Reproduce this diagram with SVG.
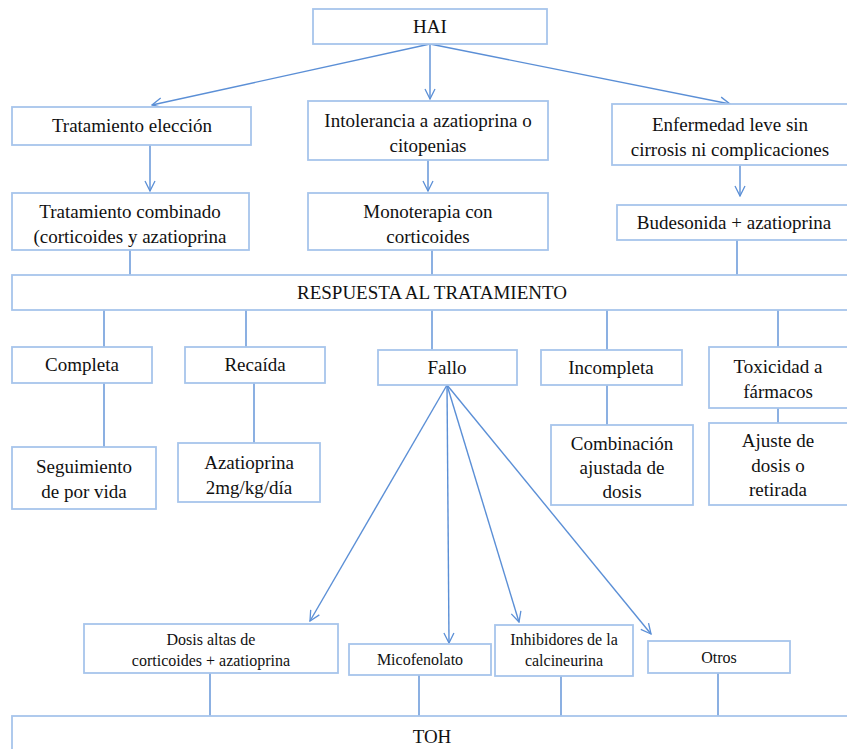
<svg xmlns="http://www.w3.org/2000/svg" width="847" height="749" viewBox="0 0 847 749">
<defs>
<marker id="ah" viewBox="0 0 12 12" refX="11" refY="6" markerWidth="12" markerHeight="12" markerUnits="userSpaceOnUse" orient="auto">
<path d="M1,1 L11,6 L1,11" fill="none" stroke="#5b8fd6" stroke-width="1.3"/>
</marker>
<style>
.b{fill:#fff;stroke:#a7c5ec;stroke-width:1.8}
text{font-family:'Liberation Serif','Times New Roman','DejaVu Serif',serif;fill:#111;text-anchor:middle}
.t{font-size:19px}
.s{font-size:16px}
.c line{stroke:#5b8fd6;stroke-width:1.4}
.a{marker-end:url(#ah)}
</style>
</defs>
<rect width="847" height="749" fill="#fff"/>
<g class="c" id="connectors">
<line class="a" x1="430" y1="44" x2="152" y2="105"/>
<line class="a" x1="430" y1="44" x2="430" y2="99"/>
<line class="a" x1="430" y1="44" x2="730" y2="104"/>
<line class="a" x1="150" y1="145" x2="150" y2="191"/>
<line class="a" x1="428" y1="160" x2="428" y2="191"/>
<line class="a" x1="740" y1="165" x2="740" y2="196"/>
<line x1="130" y1="250" x2="130" y2="275"/>
<line x1="432" y1="250" x2="432" y2="275"/>
<line x1="737" y1="240" x2="737" y2="275"/>
<line x1="104" y1="310" x2="104" y2="347"/>
<line x1="246" y1="310" x2="246" y2="347"/>
<line x1="432" y1="310" x2="432" y2="350"/>
<line x1="607" y1="310" x2="607" y2="350"/>
<line x1="778" y1="310" x2="778" y2="347"/>
<line x1="104" y1="383" x2="104" y2="447"/>
<line x1="254" y1="383" x2="254" y2="443"/>
<line x1="607" y1="385" x2="607" y2="425"/>
<line x1="778" y1="408" x2="778" y2="423"/>
<line class="a" x1="447" y1="385" x2="310" y2="621"/>
<line class="a" x1="447" y1="385" x2="449" y2="643"/>
<line class="a" x1="447" y1="385" x2="519" y2="622"/>
<line class="a" x1="447" y1="385" x2="651" y2="634"/>
<line x1="210" y1="673" x2="210" y2="716"/>
<line x1="419" y1="675" x2="419" y2="716"/>
<line x1="561" y1="676" x2="561" y2="716"/>
<line x1="718" y1="673" x2="718" y2="716"/>
</g>
<g id="hai"><rect class="b" x="313" y="9" width="234" height="35"/><text class="t" x="430" y="33">HAI</text></g>
<g id="eleccion"><rect class="b" x="12" y="107" width="239" height="38"/><text class="t" x="132" y="132">Tratamiento elección</text></g>
<g id="intolerancia"><rect class="b" x="308" y="101" width="240" height="59"/><text class="t" x="428" y="127">Intolerancia a azatioprina o</text><text class="t" x="428" y="152">citopenias</text></g>
<g id="enfermedad"><rect class="b" x="612" y="104" width="240" height="61"/><text class="t" x="730" y="131">Enfermedad leve sin</text><text class="t" x="730" y="156">cirrosis ni complicaciones</text></g>
<g id="combinado"><rect class="b" x="12" y="193" width="237" height="57"/><text class="t" x="130" y="218">Tratamiento combinado</text><text class="t" x="130" y="243">(corticoides y azatioprina</text></g>
<g id="monoterapia"><rect class="b" x="308" y="193" width="240" height="57"/><text class="t" x="428" y="218">Monoterapia con</text><text class="t" x="428" y="243">corticoides</text></g>
<g id="budesonida"><rect class="b" x="617" y="205" width="235" height="35"/><text class="t" x="734" y="229">Budesonida + azatioprina</text></g>
<g id="respuesta"><rect class="b" x="12" y="275" width="840" height="35"/><text class="t" x="432" y="299">RESPUESTA AL TRATAMIENTO</text></g>
<g id="completa"><rect class="b" x="12" y="347" width="140" height="36"/><text class="t" x="82" y="371">Completa</text></g>
<g id="recaida"><rect class="b" x="185" y="347" width="140" height="36"/><text class="t" x="255" y="371">Recaída</text></g>
<g id="fallo"><rect class="b" x="378" y="350" width="139" height="35"/><text class="t" x="447" y="374">Fallo</text></g>
<g id="incompleta"><rect class="b" x="541" y="350" width="141" height="35"/><text class="t" x="611" y="374">Incompleta</text></g>
<g id="toxicidad"><rect class="b" x="709" y="347" width="143" height="61"/><text class="t" x="778" y="373">Toxicidad a</text><text class="t" x="778" y="398">fármacos</text></g>
<g id="seguimiento"><rect class="b" x="12" y="447" width="144" height="62"/><text class="t" x="84" y="473">Seguimiento</text><text class="t" x="84" y="498">de por vida</text></g>
<g id="azatioprina"><rect class="b" x="178" y="443" width="142" height="59"/><text class="t" x="249" y="469">Azatioprina</text><text class="t" x="249" y="494">2mg/kg/día</text></g>
<g id="combinacion"><rect class="b" x="551" y="425" width="142" height="80"/><text class="t" x="622" y="450">Combinación</text><text class="t" x="622" y="474">ajustada de</text><text class="t" x="622" y="498">dosis</text></g>
<g id="ajuste"><rect class="b" x="709" y="423" width="143" height="82"/><text class="t" x="778" y="447">Ajuste de</text><text class="t" x="778" y="472">dosis o</text><text class="t" x="778" y="496">retirada</text></g>
<g id="dosisaltas"><rect class="b" x="84" y="624" width="254" height="49"/><text class="s" x="211" y="645">Dosis altas de</text><text class="s" x="211" y="666">corticoides + azatioprina</text></g>
<g id="micofenolato"><rect class="b" x="349" y="644" width="142" height="31"/><text class="s" x="420" y="665">Micofenolato</text></g>
<g id="inhibidores"><rect class="b" x="495" y="625" width="138" height="51"/><text class="s" x="564" y="645">Inhibidores de la</text><text class="s" x="564" y="666">calcineurina</text></g>
<g id="otros"><rect class="b" x="648" y="641" width="142" height="32"/><text class="s" x="719" y="663">Otros</text></g>
<g id="toh"><rect class="b" x="12" y="716" width="840" height="40"/><text class="t" x="432" y="743">TOH</text></g>
</svg>
